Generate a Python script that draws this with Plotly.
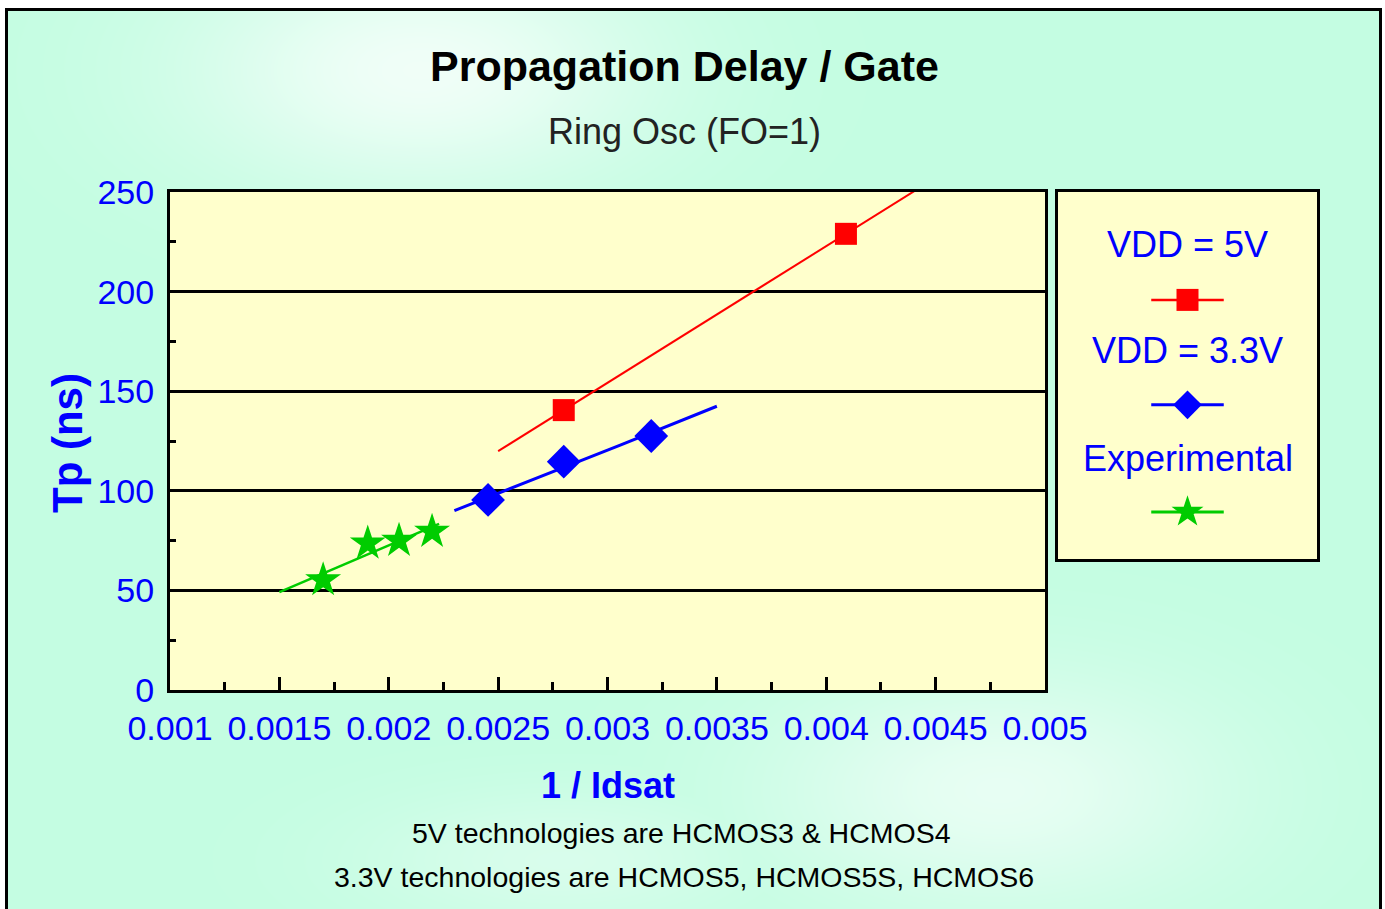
import base64
import struct
import zlib

import numpy as np
import plotly.graph_objects as go

W, H = 1385, 909

# ---------------- data ----------------
vdd5_x = [0.0028, 0.00409]
vdd5_y = [140.5, 229.0]

vdd33_x = [0.002454, 0.0028, 0.0032]
vdd33_y = [95.4, 114.6, 127.5]

exp_x = [0.0017, 0.001904, 0.002047, 0.002198]
exp_y = [55.2, 73.6, 75.0, 79.5]

# trendline forecast ranges
vdd5_fit_range = [0.0025, 0.0045]
vdd33_fit_range = [0.0023, 0.0035]
exp_fit_range = [0.0015, 0.00223]

x_tickvals = [0.001, 0.0015, 0.002, 0.0025, 0.003, 0.0035, 0.004, 0.0045, 0.005]
x_ticktext = ["0.001", "0.0015", "0.002", "0.0025", "0.003", "0.0035", "0.004", "0.0045", "0.005"]
y_tickvals = [0, 50, 100, 150, 200, 250]
y_ticktext = ["0", "50", "100", "150", "200", "250"]

legend_labels = ["VDD = 5V", "VDD = 3.3V", "Experimental"]

# ---------------- styles ----------------
RED, BLUE, GREEN = "#ff0000", "#0000ff", "#00cc00"
YELLOW = "#ffffcc"
MINT = "#cbfde5"
SANS = "Liberation Sans, Arial, sans-serif"

PLOT_BOX = (170, 1045, 192, 690)      # left, right, top, bottom (pixels)
LEGEND_BOX = (1058, 1317, 192, 559)


def px(x):
    return x / W


def py(y):
    return 1 - y / H


# ---------------- background texture (mint fading to white) ----------------
def background_uri():
    yy, xx = np.mgrid[0:H, 0:W].astype(float)
    light = np.zeros((H, W))
    for cx, cy, rx, ry, a in [(420, 70, 230, 120, 0.75), (1000, 790, 230, 120, 0.6), (560, 860, 200, 70, 0.35)]:
        light = np.maximum(light, a * np.exp(-((xx - cx) / rx) ** 2 - ((yy - cy) / ry) ** 2))
    dense = np.array([196, 253, 226], float)
    white = np.array([255, 255, 255], float)
    rgb = white[None, None, :] * light[..., None] + dense[None, None, :] * (1 - light[..., None])
    alpha = np.full((H, W), 255.0)
    for l, r, t, b in (PLOT_BOX, LEGEND_BOX):
        alpha[t:b, l:r] = 0
    img = np.dstack([rgb, alpha]).astype(np.uint8)
    raw = b"".join(b"\x00" + img[i].tobytes() for i in range(H))

    def chunk(tag, data):
        return struct.pack(">I", len(data)) + tag + data + struct.pack(">I", zlib.crc32(tag + data) & 0xFFFFFFFF)

    png = b"\x89PNG\r\n\x1a\n" + chunk(b"IHDR", struct.pack(">IIBBBBB", W, H, 8, 6, 0, 0, 0)) \
        + chunk(b"IDAT", zlib.compress(raw, 9)) + chunk(b"IEND", b"")
    return "data:image/png;base64," + base64.b64encode(png).decode()


# ---------------- trendlines ----------------
c5 = np.polyfit(vdd5_x, vdd5_y, 1)
t5x = np.linspace(*vdd5_fit_range, 60)
t5y = np.polyval(c5, t5x)

c33 = np.polyfit(np.log(vdd33_x), np.log(vdd33_y), 1)
t33x = np.linspace(*vdd33_fit_range, 60)
t33y = np.exp(np.polyval(c33, np.log(t33x)))

ce = np.polyfit(exp_x, exp_y, 1)
tex = np.linspace(*exp_fit_range, 60)
tey = np.polyval(ce, tex)

fig = go.Figure()

fig.add_trace(go.Scatter(x=t5x, y=t5y, mode="lines", line=dict(color=RED, width=2), showlegend=False, hoverinfo="skip"))
fig.add_trace(go.Scatter(x=t33x, y=t33y, mode="lines", line=dict(color=BLUE, width=3), showlegend=False, hoverinfo="skip"))
fig.add_trace(go.Scatter(x=tex, y=tey, mode="lines", line=dict(color=GREEN, width=2.5), showlegend=False, hoverinfo="skip"))

fig.add_trace(go.Scatter(x=vdd5_x, y=vdd5_y, mode="markers", name=legend_labels[0],
                         marker=dict(symbol="square", size=22, color=RED), showlegend=False))
fig.add_trace(go.Scatter(x=vdd33_x, y=vdd33_y, mode="markers", name=legend_labels[1],
                         marker=dict(symbol="diamond", size=26, color=BLUE), showlegend=False))
fig.add_trace(go.Scatter(x=exp_x, y=exp_y, mode="markers", name=legend_labels[2],
                         marker=dict(symbol="star", size=27, color=GREEN), showlegend=False))

# ---------------- custom legend (text above sample) ----------------
leg_rows = [(0.856, 0.706, RED, "square", 22, 2.5),
            (0.569, 0.420, BLUE, "diamond", 22, 3),
            (0.275, 0.128, GREEN, "star", 24, 3)]
for label, (ty, sy, col, sym, sz, lw) in zip(legend_labels, leg_rows):
    fig.add_trace(go.Scatter(x=[0.36, 0.5, 0.64], y=[sy, sy, sy], mode="lines", xaxis="x2", yaxis="y2",
                             line=dict(color=col, width=lw), showlegend=False, hoverinfo="skip"))
    fig.add_trace(go.Scatter(x=[0.5], y=[sy], mode="markers", xaxis="x2", yaxis="y2",
                             marker=dict(symbol=sym, size=sz, color=col), showlegend=False, hoverinfo="skip"))
    fig.add_annotation(x=0.5, y=ty, xref="x2", yref="y2", text=label, showarrow=False,
                       font=dict(family=SANS, size=36, color=BLUE), xanchor="center", yanchor="middle")

# ---------------- text ----------------
def note(x, y, text, size, color, angle=0):
    fig.add_annotation(x=px(x), y=py(y), xref="paper", yref="paper", text=text, textangle=angle,
                       showarrow=False, xanchor="center", yanchor="middle",
                       font=dict(family=SANS, size=size, color=color))


note(684, 66, "<b>Propagation Delay / Gate</b>", 43, "black")
note(684, 131, "Ring Osc (FO=1)", 36, "#222222")
note(608, 785, "<b>1 / Idsat</b>", 36, BLUE)
note(68, 443, "<b>Tp (ns)</b>", 42, BLUE, angle=-90)
note(681, 833, "5V technologies are HCMOS3 &amp; HCMOS4", 28.5, "black")
note(684, 877, "3.3V technologies are HCMOS5, HCMOS5S, HCMOS6", 28.5, "black")

# ---------------- outer frame ----------------
shapes = [
    dict(type="rect", xref="paper", yref="paper", x0=0, x1=px(6), y0=-0.05, y1=1.05,
         fillcolor="white", line=dict(width=0), layer="below"),
    dict(type="rect", xref="paper", yref="paper", x0=0, x1=1.05, y0=py(9), y1=1.05,
         fillcolor="white", line=dict(width=0), layer="below"),
    dict(type="rect", xref="paper", yref="paper", x0=px(1381), x1=1.05, y0=-0.05, y1=1.05,
         fillcolor="white", line=dict(width=0), layer="below"),
    dict(type="rect", xref="paper", yref="paper", x0=px(6.5), x1=px(1380.5), y0=-0.05, y1=py(9.5),
         line=dict(color="black", width=3), layer="above"),
]

axis_font = dict(family=SANS, size=34, color=BLUE)

fig.update_layout(
    width=W, height=H,
    template="none",
    margin=dict(l=0, r=0, t=0, b=0),
    paper_bgcolor=MINT,
    plot_bgcolor=YELLOW,
    shapes=shapes,
    images=[dict(source=background_uri(), xref="paper", yref="paper", x=0, y=1, sizex=1, sizey=1,
                 xanchor="left", yanchor="top", sizing="stretch", layer="below")],
    showlegend=False,
    xaxis=dict(domain=[px(PLOT_BOX[0]), px(PLOT_BOX[1])], range=[0.001, 0.005], tickmode="array",
               tickvals=x_tickvals, ticktext=x_ticktext, tickfont=axis_font, tickangle=0,
               ticks="inside", ticklen=13, tickwidth=3, tickcolor="black",
               ticklabelstandoff=6,
               minor=dict(tickmode="array",
                          tickvals=list(np.arange(0.00125, 0.005, 0.0005)),
                          ticks="inside", ticklen=8, tickwidth=3, tickcolor="black", showgrid=False),
               showgrid=False, zeroline=False, showline=True, linecolor="black", linewidth=3,
               mirror=True, automargin=False, fixedrange=True),
    yaxis=dict(domain=[py(PLOT_BOX[3]), py(PLOT_BOX[2])], range=[0, 250], tickmode="array",
               tickvals=y_tickvals, ticktext=y_ticktext, tickfont=axis_font,
               ticks="inside", ticklen=10, tickwidth=3, tickcolor="black",
               ticklabelstandoff=6,
               minor=dict(tickmode="array", tickvals=[25, 75, 125, 175, 225],
                          ticks="inside", ticklen=6, tickwidth=3, tickcolor="black", showgrid=False),
               showgrid=True, gridcolor="black", gridwidth=3, zeroline=False,
               showline=True, linecolor="black", linewidth=3, mirror=True,
               automargin=False, fixedrange=True),
    xaxis2=dict(domain=[px(LEGEND_BOX[0]), px(LEGEND_BOX[1])], range=[0, 1], anchor="y2", visible=True,
                showticklabels=False, ticks="", showgrid=False, zeroline=False,
                showline=True, linecolor="black", linewidth=3, mirror=True, fixedrange=True),
    yaxis2=dict(domain=[py(LEGEND_BOX[3]), py(LEGEND_BOX[2])], range=[0, 1], anchor="x2",
                showticklabels=False, ticks="", showgrid=False, zeroline=False,
                showline=True, linecolor="black", linewidth=3, mirror=True, fixedrange=True),
)

fig.write_html("out.html", config={"displayModeBar": False},
               post_script="document.body.style.margin='0';document.body.style.overflow='hidden';")
